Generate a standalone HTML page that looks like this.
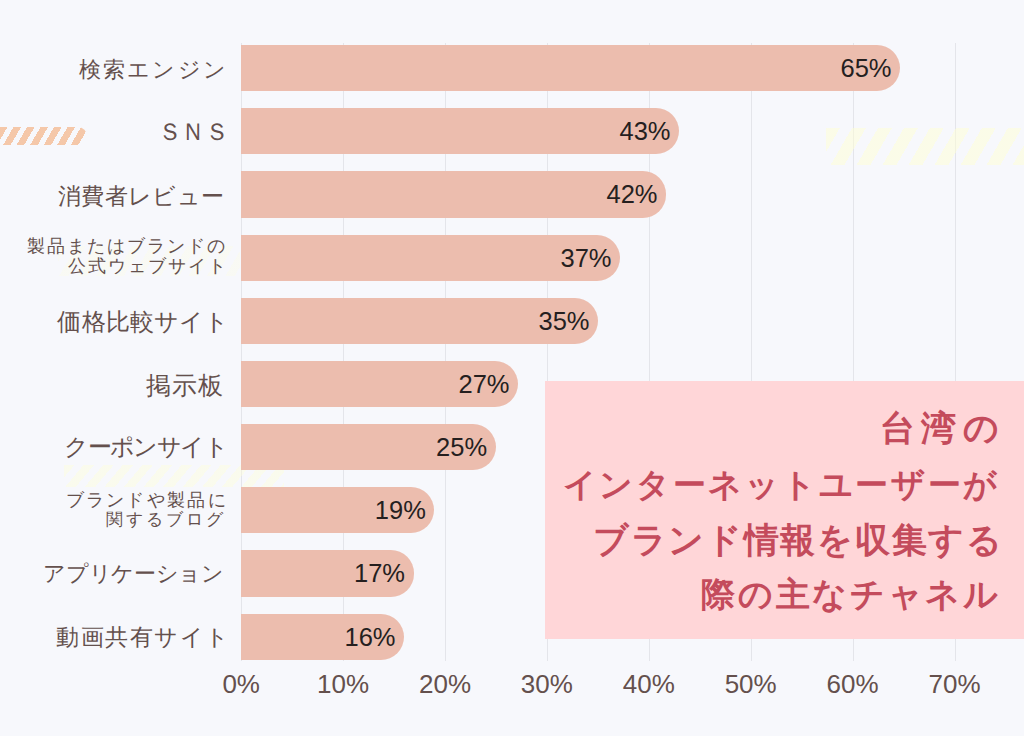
<!DOCTYPE html>
<html><head><meta charset="utf-8">
<style>
html,body{margin:0;padding:0;}
body{width:1024px;height:736px;overflow:hidden;background:#f7f8fc;position:relative;font-family:"Liberation Sans",sans-serif;}
.gl{position:absolute;top:42.5px;height:618.5px;width:1px;background:#e4e5ea;}
.tk{position:absolute;top:666px;width:100px;text-align:center;font-size:26px;line-height:36px;color:#64504d;}
.bar{position:absolute;left:241px;height:46.2px;background:#ecbdae;border-radius:0 23.1px 23.1px 0;}
.bar span{position:absolute;right:8.5px;top:0;line-height:46.2px;font-size:25.5px;color:#251f1f;}
.box{position:absolute;left:545px;top:380.5px;width:479px;height:258.8px;background:#ffd6d8;}
.st{position:absolute;}
.st1{left:0;top:126.5px;width:87px;height:18px;border-radius:0 9px 9px 0;background:repeating-linear-gradient(120deg,rgba(244,186,146,0.78) 0 6.5px,transparent 6.5px 11.7px);}
.st2{left:826px;top:128px;width:198px;height:37px;background:repeating-linear-gradient(120deg,rgba(255,255,212,0.5) 0 12px,transparent 12px 22.5px);}
.st3{left:58px;top:246px;width:182px;height:30px;background:repeating-linear-gradient(120deg,rgba(255,255,215,0.22) 0 8px,transparent 8px 16px);}
.st4{left:64px;top:465px;width:220px;height:22px;background:repeating-linear-gradient(130deg,rgba(255,255,215,0.4) 0 8px,transparent 8px 15px);}
.lt{position:absolute;white-space:nowrap;line-height:1;color:#64504d;}
.tt{position:absolute;white-space:nowrap;line-height:1;color:#c44b5c;font-weight:bold;}
</style></head><body>
<div class="gl" style="left:241px"></div>
<div class="tk" style="left:191.20px">0%</div>
<div class="gl" style="left:343px"></div>
<div class="tk" style="left:293.10px">10%</div>
<div class="gl" style="left:445px"></div>
<div class="tk" style="left:395.00px">20%</div>
<div class="gl" style="left:547px"></div>
<div class="tk" style="left:496.90px">30%</div>
<div class="gl" style="left:649px"></div>
<div class="tk" style="left:598.80px">40%</div>
<div class="gl" style="left:751px"></div>
<div class="tk" style="left:700.70px">50%</div>
<div class="gl" style="left:853px"></div>
<div class="tk" style="left:802.60px">60%</div>
<div class="gl" style="left:955px"></div>
<div class="tk" style="left:904.50px">70%</div>
<div class="st st1"></div>
<div class="st st2"></div>
<div class="st st3"></div>
<div class="st st4"></div>
<div class="bar" style="top:45.00px;width:659.00px"><span>65%</span></div>
<div class="bar" style="top:108.18px;width:438.00px"><span>43%</span></div>
<div class="bar" style="top:171.36px;width:425.00px"><span>42%</span></div>
<div class="bar" style="top:234.54px;width:379.00px"><span>37%</span></div>
<div class="bar" style="top:297.72px;width:357.00px"><span>35%</span></div>
<div class="bar" style="top:360.90px;width:277.00px"><span>27%</span></div>
<div class="bar" style="top:424.08px;width:254.60px"><span>25%</span></div>
<div class="bar" style="top:487.26px;width:193.40px"><span>19%</span></div>
<div class="bar" style="top:550.44px;width:172.50px"><span>17%</span></div>
<div class="bar" style="top:613.62px;width:163.00px"><span>16%</span></div>
<div class="box"></div>
<div class="lt" id="l0" style="left:78.90px;top:58.62px;font-size:21.59px;letter-spacing:2.160px">検索エンジン</div>
<div class="lt" id="l1" style="left:158.00px;top:119.82px;font-size:23.84px;letter-spacing:-0.700px">ＳＮＳ</div>
<div class="lt" id="l2" style="left:57.70px;top:184.50px;font-size:23.10px;letter-spacing:0.433px">消費者レビュー</div>
<div class="lt" id="l3a" style="left:26.50px;top:236.82px;font-size:18.00px;letter-spacing:2.111px">製品またはブランドの</div>
<div class="lt" id="l3b" style="left:67.70px;top:257.39px;font-size:18.11px;letter-spacing:2.114px">公式ウェブサイト</div>
<div class="lt" id="l4" style="left:57.40px;top:310.72px;font-size:23.69px;letter-spacing:0.133px">価格比較サイト</div>
<div class="lt" id="l5" style="left:145.90px;top:373.57px;font-size:24.82px;letter-spacing:1.100px">掲示板</div>
<div class="lt" id="l6" style="left:64.10px;top:435.10px;font-size:24.20px;letter-spacing:-1.533px">クーポンサイト</div>
<div class="lt" id="l7a" style="left:65.60px;top:492.36px;font-size:17.63px;letter-spacing:2.286px">ブランドや製品に</div>
<div class="lt" id="l7b" style="left:105.50px;top:510.69px;font-size:17.10px;letter-spacing:3.040px">関するブログ</div>
<div class="lt" id="l8" style="left:43.10px;top:562.82px;font-size:21.59px;letter-spacing:-0.286px">アプリケーション</div>
<div class="lt" id="l9" style="left:56.40px;top:625.73px;font-size:23.49px;letter-spacing:1.467px">動画共有サイト</div>
<div class="tt" id="t1" style="left:880.30px;top:409.96px;font-size:34.98px;letter-spacing:6.200px">台湾の</div>
<div class="tt" id="t2" style="left:562.60px;top:467.55px;font-size:33.10px;letter-spacing:2.709px">インターネットユーザーが</div>
<div class="tt" id="t3" style="left:592.80px;top:522.73px;font-size:34.61px;letter-spacing:1.740px">ブランド情報を収集する</div>
<div class="tt" id="t4" style="left:701.20px;top:577.27px;font-size:34.46px;letter-spacing:2.686px">際の主なチャネル</div>
</body></html>
